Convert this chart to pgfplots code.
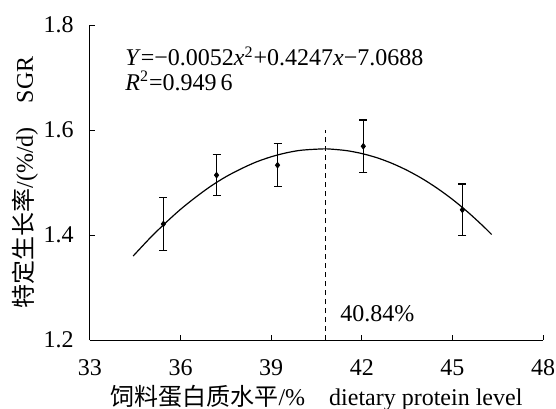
\documentclass[border=0pt]{standalone}
\usepackage{fontspec}
\setmainfont{Liberation Serif}
\newfontfamily\cjk{Noto Sans CJK SC}
\usepackage{pgfplots}
\pgfplotsset{compat=1.18}
\begin{document}
\fontsize{12}{14}\selectfont
\begin{tikzpicture}
\begin{axis}[
  name=ax,
  scale only axis, width=226.5pt, height=157.5pt,
  xmin=33, xmax=48, ymin=1.2, ymax=1.8,
  xtick={33,36,39,42,45,48}, ytick={1.2,1.4,1.6,1.8},
  axis x line*=bottom, axis y line*=left,
  axis line style={-, line width=0.5pt},
  tick align=inside, major tick length=2.5pt,
  tick style={black, line width=0.5pt},
  /pgf/number format/assume math mode=true,
  xticklabel style={yshift=-5.5pt},
  yticklabel style={xshift=-4pt, /pgf/number format/.cd, fixed, fixed zerofill, precision=1},
  xlabel={{\cjk 饲料蛋白质水平}/\%\quad dietary protein level},
  ylabel={{\cjk 特定生长率}/(\%/d)\quad SGR},
  xlabel style={at={(axis description cs:0.5,-0.209)}, anchor=base},
  ylabel style={at={(axis description cs:-0.126,0.5)}, anchor=base},
  clip=false,
]
% fitted curve
\addplot[black, line width=0.6pt, smooth] coordinates {
(34.43,1.360) (35.0,1.395) (35.5,1.423) (36.0,1.449) (36.5,1.472)
(37.0,1.493) (37.5,1.511) (38.0,1.526) (38.5,1.539) (39.0,1.549)
(39.5,1.5565) (40.0,1.5615) (40.7,1.564) (41.0,1.5635) (41.5,1.5607)
(42.0,1.5552) (42.5,1.5472) (43.0,1.5365) (43.5,1.5232) (44.0,1.5074)
(44.5,1.4889) (45.0,1.4679) (45.5,1.4442) (46.0,1.4179) (46.3,1.4009)
};
% data with error bars
\addplot[black, only marks, mark=diamond*, mark size=1.4pt,
  error bars/.cd, y dir=both, y explicit,
  error bar style={line width=0.6pt},
  error mark options={rotate=90, mark size=2pt, line width=0.6pt}]
  coordinates {
  (35.43,1.421) +- (0,0.051)
  (37.19,1.514) +- (0,0.039)
  (39.21,1.533) +- (0,0.041)
  (42.05,1.569) +- (0,0.050)
  (45.33,1.448) +- (0,0.049)
};
% optimum line
\addplot[black, line width=0.6pt, dash pattern=on 2.5pt off 2pt] coordinates {(40.8,1.2) (40.8,1.6)};
\node[anchor=west, inner sep=0pt] at (axis cs:34.16,1.740) {\textit{Y}=−0.0052\textit{x}\textsuperscript{2}+0.4247\textit{x}−7.0688};
\node[anchor=west, inner sep=0pt] at (axis cs:34.16,1.693) {\textit{R}\textsuperscript{2}=0.949\,6};
\node[anchor=west, inner sep=0pt] at (axis cs:41.28,1.251) {40.84\%};
\end{axis}
\pgfresetboundingbox
\path ([shift={(-45pt,-34pt)}]ax.south west) rectangle ([shift={(6.5pt,12.5pt)}]ax.north east);
\end{tikzpicture}
\end{document}
